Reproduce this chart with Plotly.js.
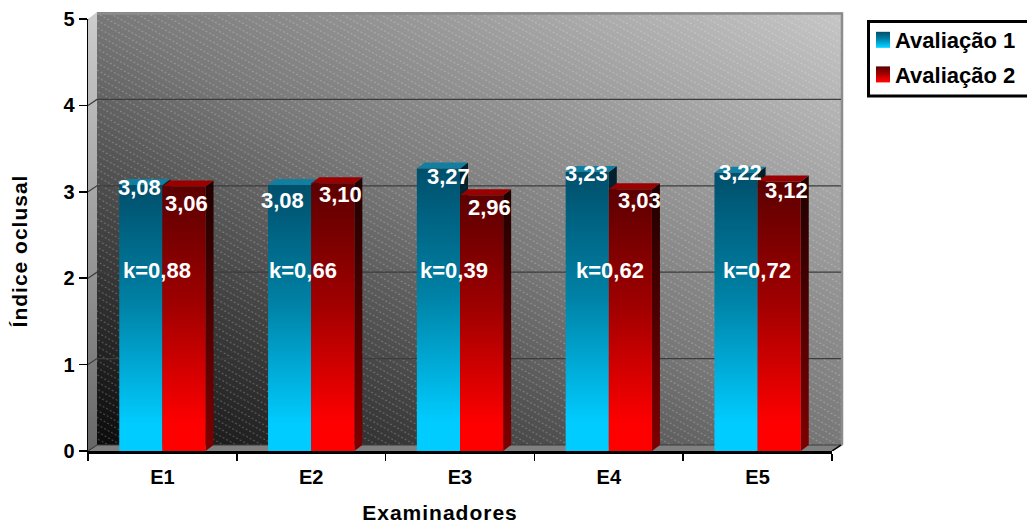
<!DOCTYPE html>
<html><head><meta charset="utf-8">
<script src="https://cdn.plot.ly/plotly-3.0.1.min.js"></script>
<style>html,body{margin:0;padding:0;background:#fff}#c{width:1027px;height:522px}</style>
</head><body><div id="c"></div>
<script>
// ---- data ----
const examiners = ['E1','E2','E3','E4','E5'];
const seriesNames = ['Avaliação 1','Avaliação 2'];
const av1 = [3.08,3.08,3.27,3.23,3.22];
const av2 = [3.06,3.10,2.96,3.03,3.12];
const kappa = ['k=0,88','k=0,66','k=0,39','k=0,62','k=0,72'];
const yTicks = [0,1,2,3,4,5];

// ---- label placement (pixels from each value's own bar top / centre) ----
const av1LabelDx = [-1,-7,10,-1,4], av1LabelDy = [-3,-16,-8,-2,0];
const av2LabelDx = [3,8,8,9,7],     av2LabelDy = [-17,-11,-12,-11,-9];
const kappaDx = [-5,-8,-6,1,-1];

const F = 'Liberation Sans, Arial, sans-serif';
const W = 1027, H = 522, L = 88, R = 195, T = 19, B = 71;
const pxPerUnit = (H-T-B)/5, plotW = W-L-R, depthX = 8, depthY = 6, wallX = 9;
const barFrac = 0.29, barPx = barFrac*plotW/5;

const wallSvg = `<svg xmlns="http://www.w3.org/2000/svg" width="756" height="439" viewBox="0 0 756 439">
<defs>
<linearGradient id="w" gradientUnits="userSpaceOnUse" x1="9" y1="433" x2="385" y2="-215">
<stop offset="0" stop-color="#0a0a0a"/><stop offset="0.5" stop-color="#787878"/><stop offset="1" stop-color="#c6c6c6"/></linearGradient>
<linearGradient id="s" x1="0" y1="0" x2="0" y2="1"><stop offset="0" stop-color="#cdcdcd"/><stop offset="0.55" stop-color="#999"/><stop offset="1" stop-color="#666"/></linearGradient>
<pattern id="h" patternUnits="userSpaceOnUse" width="40" height="6.2" patternTransform="rotate(29)">
<line x1="0" y1="3" x2="40" y2="3" stroke="#fff" stroke-opacity="0.24" stroke-width="1.1" stroke-dasharray="2 2"/></pattern>
</defs>
<rect x="9" y="0" width="746" height="433" fill="url(#w)"/>
<rect x="9" y="0" width="746" height="433" fill="url(#h)"/>
<path d="M9 1.5H754V433" fill="none" stroke="#8c8c8c" stroke-width="2.5"/>
<polygon points="0,7 9,0 9,433 0,439" fill="url(#s)"/>
<polygon points="0,439 9,433 755,433 745,439" fill="#808080"/>
</svg>`;

const blueFront='#005070', redFront='#700000', blueSide='#00222e', redSide='#2a0000', blueCap='#127fa0', redCap='#9a0000';

const shapes = [];
yTicks.forEach(t => {
  shapes.push({type:'path', layer:'below', xref:'paper', yref:'y', xsizemode:'pixel', ysizemode:'pixel', xanchor:0, yanchor:t,
    path:`M0 0 L${wallX} ${depthY} L${plotW+wallX} ${depthY}`, line:{color:'#3c3c3c',width:1.2}, fillcolor:'rgba(0,0,0,0)'});
});
shapes.push({type:'path', layer:'below', xref:'paper', yref:'y', xsizemode:'pixel', ysizemode:'pixel', xanchor:1, yanchor:0,
  path:`M0 0 L${wallX} ${depthY}`, line:{color:'#000',width:1.5}});
function faces(vals, off, sideCol, capCol){
  vals.forEach((v,i)=>{
    const h=v*pxPerUnit, x0=i+off, x1=i+off+barFrac;
    shapes.push({type:'path',layer:'between',xref:'x',yref:'y',xsizemode:'pixel',ysizemode:'pixel',xanchor:x1,yanchor:0,
      path:`M0 0 L${depthX} ${depthY} L${depthX} ${h+depthY} L0 ${h} Z`,fillcolor:sideCol,line:{width:0}});
    shapes.push({type:'path',layer:'between',xref:'x',yref:'y',xsizemode:'pixel',ysizemode:'pixel',xanchor:x0,yanchor:0,
      path:`M0 ${h} L${depthX} ${h+depthY} L${barPx+depthX} ${h+depthY} L${barPx} ${h} Z`,fillcolor:capCol,line:{width:0}});
  });
}
faces(av1,-barFrac,blueSide,blueCap);
faces(av2,0,redSide,redCap);

const ann=[];
const lab=(x,y,text,dx,dy)=>ann.push({x,y,text,xref:'x',yref:'y',xshift:dx,yshift:dy,showarrow:false,font:{family:F,size:22,color:'#fff',weight:700}});
examiners.forEach((e,i)=>{
  lab(i-barFrac/2,av1[i],av1[i].toFixed(2).replace('.',','),av1LabelDx[i],av1LabelDy[i]);
  lab(i+barFrac/2,av2[i],av2[i].toFixed(2).replace('.',','),av2LabelDx[i],av2LabelDy[i]);
  lab(i,2,kappa[i],kappaDx[i],8);
});

const traces=[
 {type:'bar',name:seriesNames[0],x:[0,1,2,3,4],y:av1,marker:{color:blueFront,line:{width:0}},legendgroup:'a',hoverinfo:'skip'},
 {type:'bar',name:seriesNames[1],x:[0,1,2,3,4],y:av2,marker:{color:redFront,line:{width:0}},legendgroup:'b',hoverinfo:'skip'}
];
const layout={
 width:W,height:H,margin:{l:L,r:R,t:T,b:B,pad:0,autoexpand:false},paper_bgcolor:'#fff',plot_bgcolor:'rgba(0,0,0,0)',
 barmode:'group',bargap:1-2*barFrac,bargroupgap:0,shapes,annotations:ann,
 font:{family:F,color:'#000'},
 images:[{source:'data:image/svg+xml;charset=utf-8,'+encodeURIComponent(wallSvg),xref:'paper',yref:'paper',x:0,y:(439)/(H-T-B)-0.0001,xanchor:'left',yanchor:'top',sizex:756/plotW,sizey:439/(H-T-B),sizing:'stretch',layer:'below'}],
 xaxis:{type:'linear',range:[-0.5,4.5],tickmode:'array',tickvals:[0,1,2,3,4],ticktext:examiners,ticks:'',showgrid:false,zeroline:false,showline:true,linecolor:'#000',linewidth:2.5,
   tickfont:{family:F,size:20,weight:700},ticklabelstandoff:6,automargin:false,title:{text:'Examinadores',standoff:20,font:{family:F,size:21,weight:700}},
   minor:{tickmode:'array',tickvals:[-0.5,0.5,1.5,2.5,3.5,4.5],ticks:'outside',ticklen:7,tickwidth:1.5,tickcolor:'#000'}},
 yaxis:{range:[0,5],tickvals:yTicks,ticks:'outside',ticklen:8,tickwidth:1.5,tickcolor:'#000',showgrid:false,zeroline:false,showline:true,linecolor:'#000',linewidth:1.5,
   tickfont:{family:F,size:20,weight:700},automargin:false,title:{text:'Índice oclusal',standoff:22,font:{family:F,size:21,weight:700}}},
 legend:{x:(855-L)/plotW,y:(H-B-19)/(H-T-B),xanchor:'left',yanchor:'top',bgcolor:'rgba(0,0,0,0)',borderwidth:0,font:{family:F,size:22,weight:700,color:'#000'},traceorder:'grouped',tracegroupgap:3}
};
layout.shapes.push({type:'rect',xref:'paper',yref:'paper',layer:'below',x0:(868.5-L)/plotW,x1:(1040-L)/plotW,y0:(H-B-96)/(H-T-B),y1:(H-B-21.5)/(H-T-B),line:{color:'#000',width:3},fillcolor:'#fff'});

Plotly.newPlot('c',traces,layout,{displayModeBar:false,staticPlot:true}).then(gd=>{
  const svg=gd.querySelector('.main-svg');
  const NS='http://www.w3.org/2000/svg';
  let defs=svg.querySelector('defs'); if(!defs){defs=document.createElementNS(NS,'defs');svg.appendChild(defs);}
  const grad=(id,stops)=>{const g=document.createElementNS(NS,'linearGradient');g.id=id;g.setAttribute('x1','0');g.setAttribute('y1','0');g.setAttribute('x2','0');g.setAttribute('y2','1');
    stops.forEach(([o,c])=>{const s=document.createElementNS(NS,'stop');s.setAttribute('offset',o);s.setAttribute('stop-color',c);g.appendChild(s);});defs.appendChild(g);};
  grad('gBlue',[[0,'#004f6b'],[0.45,'#0082a6'],[0.9,'#00ccff'],[1,'#00ccff']]);
  grad('gRed',[[0,'#5c0000'],[0.45,'#a00000'],[0.9,'#ff0000'],[1,'#ff0000']]);
  grad('gBlueS',[[0,'#001f2a'],[1,'#004e68']]);
  grad('gRedS',[[0,'#1f0000'],[1,'#7e0000']]);
  const map={'rgb(0, 80, 112)':'gBlue','rgb(112, 0, 0)':'gRed','rgb(0, 34, 46)':'gBlueS','rgb(42, 0, 0)':'gRedS'};
  gd.querySelectorAll('.bars path, .legendpoints path, .shapelayer path').forEach(p=>{
    const id=map[p.style.fill]; if(id) p.style.fill=`url(#${id})`;
  });
  // legend swatch size and spot
  gd.querySelectorAll('.legendpoints path').forEach(p=>{p.setAttribute('d','M7,8H-7V-8H7Z');p.setAttribute('transform','translate(28,0)');});
  const shift=(el,dx,dy)=>el.setAttribute('transform',`translate(${dx},${dy}) `+(el.getAttribute('transform')||''));
  gd.querySelectorAll('.xtitle').forEach(t=>{t.style.letterSpacing='1px';shift(t,-20,2);});
  gd.querySelectorAll('.ytitle').forEach(t=>{t.style.letterSpacing='1px';shift(t,-8,16);});
});
</script></body></html>
